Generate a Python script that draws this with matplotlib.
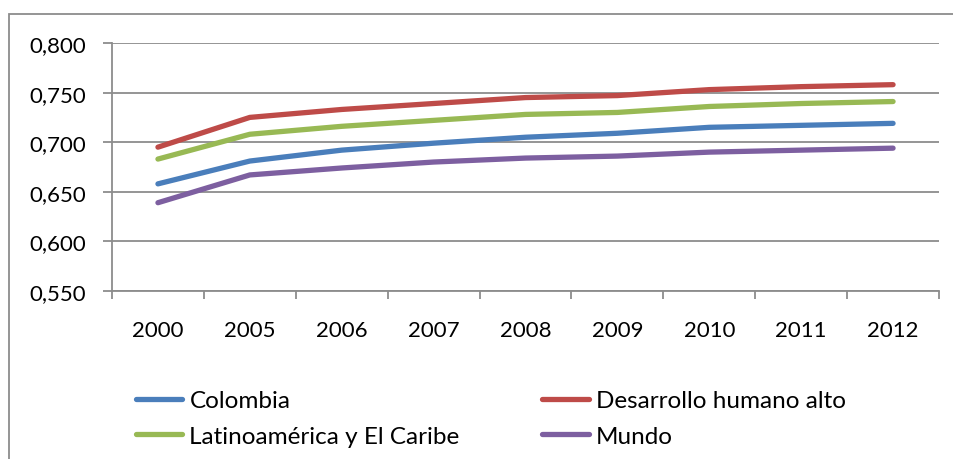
import matplotlib.pyplot as plt
from matplotlib.patches import Rectangle
from matplotlib.ticker import FuncFormatter, FixedLocator

plt.rcParams["font.family"] = ["Lato", "DejaVu Sans"]

years = ["2000", "2005", "2006", "2007", "2008", "2009", "2010", "2011", "2012"]
colombia = [0.658, 0.681, 0.692, 0.699, 0.705, 0.709, 0.715, 0.717, 0.719]
alto = [0.695, 0.725, 0.733, 0.739, 0.745, 0.747, 0.753, 0.756, 0.758]
latam = [0.683, 0.708, 0.716, 0.722, 0.728, 0.730, 0.736, 0.739, 0.741]
mundo = [0.639, 0.667, 0.674, 0.680, 0.684, 0.686, 0.690, 0.692, 0.694]

series = [
    ("Colombia", colombia, "#4A7EBB"),
    ("Desarrollo humano alto", alto, "#BE4B48"),
    ("Latinoamérica y El Caribe", latam, "#98B954"),
    ("Mundo", mundo, "#7D5FA0"),
]

grid_color = "#8C8C8C"

fig = plt.figure(figsize=(9.54, 4.6), dpi=100)
ax = fig.add_axes([112 / 954, 1 - 292 / 460, (939 - 112) / 954, (292 - 44) / 460])

x = list(range(len(years)))
handles = {}
for name, vals, color in series:
    (h,) = ax.plot(x, vals, color=color, lw=3.8, solid_capstyle="round", label=name)
    handles[name] = h

ax.set_xlim(-0.5, len(years) - 0.5)
ax.set_ylim(0.55, 0.80)
ax.set_yticks([0.55, 0.60, 0.65, 0.70, 0.75, 0.80])
ax.yaxis.set_major_formatter(FuncFormatter(lambda v, p: f"{v:.3f}".replace(".", ",")))
ax.grid(axis="y", color=grid_color, lw=1.3)
ax.set_axisbelow(True)

ax.set_xticks(x)
ax.set_xticklabels(years)
ax.xaxis.set_minor_locator(FixedLocator([i - 0.5 for i in range(len(years) + 1)]))
ax.tick_params(axis="x", which="major", length=0, pad=21, labelsize=16)
ax.tick_params(axis="x", which="minor", length=5.5, width=1.3, color=grid_color, direction="out")
ax.tick_params(axis="y", length=6.5, width=1.3, color=grid_color, pad=12, labelsize=16)

for side in ["top", "right"]:
    ax.spines[side].set_visible(False)
for side in ["left", "bottom"]:
    ax.spines[side].set_color(grid_color)
    ax.spines[side].set_linewidth(1.3)

# legend is filled column by column, so list the items in that order
order = ["Colombia", "Latinoamérica y El Caribe", "Desarrollo humano alto", "Mundo"]
fig.legend(
    handles=[handles[n] for n in order],
    labels=order,
    ncol=2,
    loc="upper left",
    bbox_to_anchor=(136 / 954, 1 - 391 / 460),
    frameon=False,
    fontsize=17.5,
    handlelength=1.9,
    handletextpad=0.3,
    columnspacing=3.4,
    labelspacing=0.6,
    borderpad=0,
    borderaxespad=0,
)

fig.add_artist(Rectangle((9 / 954, -0.2), 1.2, (445 / 460) + 0.2,
                         transform=fig.transFigure, fill=False,
                         edgecolor=grid_color, lw=1.3))

fig.savefig("out.png", dpi=100)
